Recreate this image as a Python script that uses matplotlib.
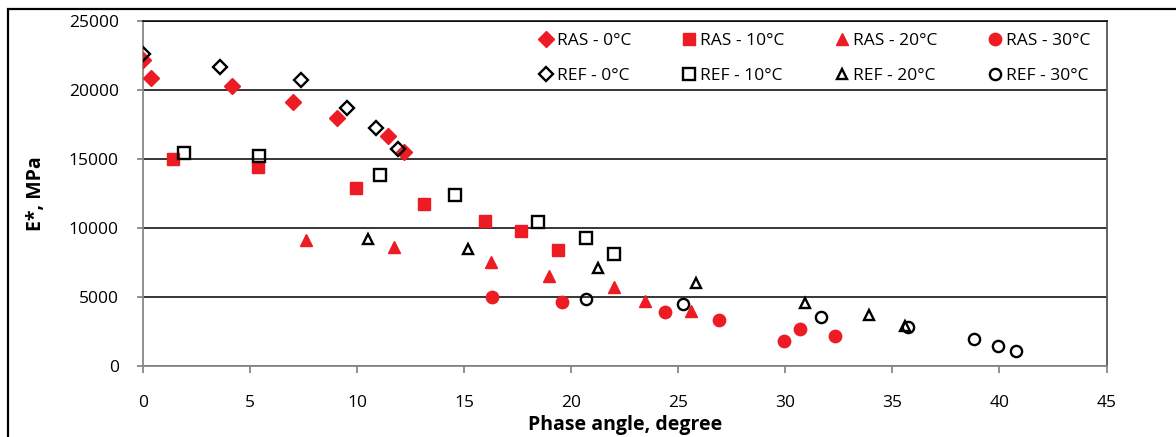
import numpy as np
import matplotlib.pyplot as plt
from matplotlib.patches import Rectangle

# RAS mixtures (filled red markers)
ras0_x = [0.0, 0.36, 4.17, 7.02, 9.08, 11.42, 12.21]
ras0_y = [22200, 20900, 20300, 19100, 18000, 16700, 15500]
ras10_x = [1.39, 5.39, 9.95, 13.13, 15.95, 17.65, 19.38]
ras10_y = [15000, 14400, 12900, 11750, 10500, 9750, 8400]
ras20_x = [7.60, 11.71, 16.25, 18.94, 21.98, 23.46, 25.60]
ras20_y = [9150, 8600, 7550, 6550, 5700, 4700, 3950]
ras30_x = [16.29, 19.59, 24.39, 26.92, 29.95, 30.70, 32.34]
ras30_y = [5000, 4650, 3880, 3320, 1800, 2680, 2170]

# REF mixtures (open black markers)
ref0_x = [0.0, 3.60, 7.38, 9.55, 10.89, 11.90]
ref0_y = [22600, 21700, 20700, 18700, 17250, 15750]
ref10_x = [1.93, 5.44, 11.07, 14.58, 18.44, 20.69, 21.98]
ref10_y = [15450, 15250, 13850, 12400, 10450, 9300, 8150]
ref20_x = [10.50, 15.17, 21.23, 25.84, 30.93, 33.93, 35.61]
ref20_y = [9200, 8450, 7080, 5990, 4600, 3700, 2900]
ref30_x = [20.70, 25.20, 31.68, 35.71, 38.80, 39.92, 40.79]
ref30_y = [4830, 4470, 3530, 2850, 1930, 1450, 1100]

plt.rcParams['font.family'] = ['Open Sans', 'DejaVu Sans']

red = '#ED1C24'

fig = plt.figure(figsize=(11.76, 4.37), dpi=100)
ax = fig.add_axes([143/1176, 1-366/437, (1106.5-143)/1176, (366-21)/437])

fig.patches.append(Rectangle((8/1176, -0.1), 1.2, 1-9/437+0.1, transform=fig.transFigure,
                             fill=False, edgecolor='black', linewidth=1.6))

ax.yaxis.grid(True, color='black', linewidth=1.1)
ax.set_axisbelow(True)

ms = 8.5
mew = 1.7
ax.plot(ras0_x, ras0_y, 'D', color=red, ms=ms*0.95, label='RAS - 0°C', zorder=3)
ax.plot(ref0_x, ref0_y, 'D', mfc='none', mec='black', mew=mew, ms=ms*0.85, label='REF - 0°C', zorder=4)
ax.plot(ras10_x, ras10_y, 's', color=red, ms=ms, label='RAS - 10°C', zorder=3)
ax.plot(ref10_x, ref10_y, 's', mfc='none', mec='black', mew=mew, ms=ms*0.95, label='REF - 10°C', zorder=4)
ax.plot(ras20_x, ras20_y, '^', color=red, ms=ms*1.05, label='RAS - 20°C', zorder=3)
ax.plot(ref20_x, ref20_y, '^', mfc='none', mec='black', mew=mew, ms=ms*0.9, label='REF - 20°C', zorder=4)
ax.plot(ras30_x, ras30_y, 'o', color=red, ms=ms*1.05, label='RAS - 30°C', zorder=3)
ax.plot(ref30_x, ref30_y, 'o', mfc='none', mec='black', mew=mew, ms=ms*0.95, label='REF - 30°C', zorder=4)

ax.set_xlim(0, 45)
ax.set_ylim(0, 25000)
ax.set_xticks(np.arange(0, 46, 5))
ax.set_yticks(np.arange(0, 25001, 5000))

for s in ['left', 'bottom']:
    ax.spines[s].set_color('#888888')
    ax.spines[s].set_linewidth(1.3)
ax.spines['right'].set_color('#555555')
ax.spines['right'].set_linewidth(1.3)
ax.spines['top'].set_color('black')
ax.spines['top'].set_linewidth(1.1)

ax.tick_params(axis='x', direction='out', length=5, width=1.3, color='#888888',
               pad=16, labelsize=12.5)
ax.tick_params(axis='y', direction='out', length=4.5, width=1.3, color='#888888',
               pad=13, labelsize=12.5)

ax.set_xlabel('Phase angle, degree', fontsize=14, fontweight='bold', labelpad=3)
ax.set_ylabel('E*, MPa', fontsize=14, fontweight='bold', labelpad=16)

ax.legend(ncol=4, loc='upper right', bbox_to_anchor=(0.9905, 0.985), frameon=False,
          fontsize=12.5, handlelength=0.6, handletextpad=0.35, columnspacing=3.0,
          labelspacing=1.05, borderaxespad=0.0)

fig.savefig('out.png', dpi=100)
